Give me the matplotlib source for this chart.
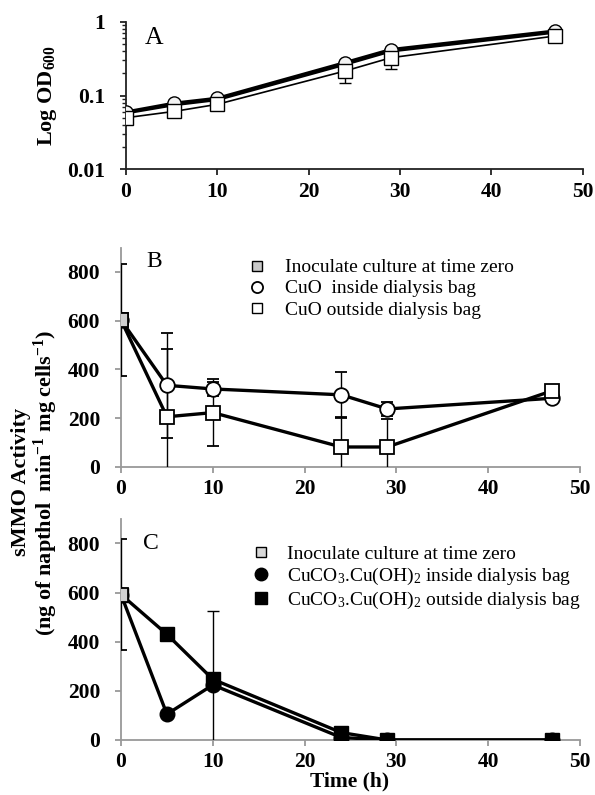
import matplotlib
matplotlib.use("Agg")
import matplotlib.pyplot as plt
from matplotlib.lines import Line2D

plt.rcParams['font.family'] = ['Liberation Serif', 'DejaVu Serif']
plt.rcParams['mathtext.default'] = 'regular'

# time points (h)
t = [0, 5, 10, 24, 29, 47]
t_a = [0, 5.3, 10, 24, 29, 47]

# panel A - growth (OD600)
od_in_cuo = [0.060, 0.079, 0.092, 0.28, 0.42, 0.75]
od_in_cuco3 = [0.058, 0.075, 0.088, 0.265, 0.40, 0.72]
od_out = [0.050, 0.061, 0.076, 0.215, 0.325, 0.64]
od_out_err_low = [0, 0, 0, 0.065, 0.095, 0]

# panel B - CuO
b_inoc = [603]
b_inoc_err = [228]
b_in = [603, 335, 320, 296, 238, 282]
b_in_err = [0, 215, 30, 92, 30, 0]
b_out = [603, 206, 223, 82, 82, 313]
b_out_err = [0, 278, 138, 120, 116, 0]

# panel C - CuCO3.Cu(OH)2
c_inoc = [592]
c_inoc_err = [225]
c_in = [592, 105, 224, 10, 0, 0]
c_in_err = [0, 0, 0, 0, 0, 0]
c_out = [592, 430, 247, 30, 0, 0]
c_out_err = [0, 0, 277, 0, 0, 0]

xticks = [0, 10, 20, 30, 40, 50]

fig = plt.figure(figsize=(5.95, 7.95), dpi=100)
axA = fig.add_axes([0.2118, 0.7870, 0.7672, 0.1857])
axB = fig.add_axes([0.2034, 0.4126, 0.7714, 0.2760])
axC = fig.add_axes([0.2034, 0.0692, 0.7714, 0.2782])

tick_font = dict(fontsize=15.5, fontweight='bold')


def style(ax, spine_color):
    for s in ['top', 'right']:
        ax.spines[s].set_visible(False)
    for s in ['left', 'bottom']:
        ax.spines[s].set_color(spine_color)
        ax.spines[s].set_linewidth(1.3)
    ax.set_xlim(0, 50)
    ax.set_xticks(xticks)
    ax.set_xticklabels([str(v) for v in xticks], **tick_font)
    ax.tick_params(axis='both', direction='out', length=4, width=1.3,
                   color=spine_color)
    ax.tick_params(axis='x', pad=5)
    ax.tick_params(axis='y', pad=11)


# ---- A ----
axA.set_yscale('log')
axA.set_ylim(0.01, 1)
axA.plot(t_a, od_in_cuco3, color='black', lw=2.2, marker='o', ms=9.5,
         mfc='#f4f4f4', mec='black', zorder=3)
axA.plot(t_a, od_in_cuo, color='black', lw=2.2, marker='o', ms=9.5,
         mfc='#f4f4f4', mec='black', zorder=3)
axA.errorbar(t_a, od_out, yerr=[od_out_err_low, [0] * len(t_a)],
             color='black', lw=1.2, marker='s', ms=9.5, mfc='white',
             mec='black', capsize=4, elinewidth=1, zorder=4)
axA.set_yticks([0.01, 0.1, 1])
axA.set_yticklabels(['0.01', '0.1', '1'], **tick_font)
style(axA, '#222222')
axA.tick_params(axis='y', which='minor', length=3, width=1, color='#222222')
axA.text(3.1, 0.61, 'A', fontsize=18.5, ha='center', va='center')
axA.set_ylabel('Log OD$_{600}$', fontsize=16, fontweight='bold', labelpad=6)

# ---- B ----
axB.set_ylim(0, 900)
axB.errorbar(t, b_in, yerr=b_in_err, color='black', lw=2.4, marker='o',
             ms=10.5, mfc='white', mec='black', mew=1.3, capsize=4,
             elinewidth=1, ecolor='black', zorder=3)
axB.errorbar(t, b_out, yerr=b_out_err, color='black', lw=2.4, marker='s',
             ms=10.5, mfc='white', mec='black', mew=1.3, capsize=4,
             elinewidth=1, ecolor='black', zorder=3)
axB.errorbar(t[:1], b_inoc, yerr=b_inoc_err, color='black', lw=0,
             marker='s', ms=10.5, mfc='#cfcfcf', mec='black', mew=1.3,
             capsize=4, elinewidth=1, zorder=4)
axB.set_yticks([0, 200, 400, 600, 800])
axB.set_yticklabels(['0', '200', '400', '600', '800'], **tick_font)
style(axB, '#999999')
axB.text(3.6, 841, 'B', fontsize=17, ha='center', va='center')

hB = [Line2D([], [], ls='none', marker='s', ms=7.5, mfc='#c8c8c8', mec='black'),
      Line2D([], [], ls='none', marker='o', ms=8, mfc='white', mec='black',
             mew=1.3),
      Line2D([], [], ls='none', marker='s', ms=7.5, mfc='white', mec='black')]
axB.legend(hB, ['Inoculate culture at time zero', 'CuO  inside dialysis bag',
                'CuO outside dialysis bag'],
           loc='upper left', bbox_to_anchor=(0.415, 0.6745),
           bbox_transform=fig.transFigure, frameon=False,
           fontsize=14, handlelength=1.0, handletextpad=0.96,
           labelspacing=0.18, borderaxespad=0, borderpad=0)

# ---- C ----
axC.set_ylim(0, 900)
axC.errorbar(t, c_in, yerr=c_in_err, color='black', lw=2.4, marker='o',
             ms=10.5, mfc='black', mec='black', capsize=4, elinewidth=1,
             zorder=3)
axC.errorbar(t, c_out, yerr=c_out_err, color='black', lw=2.4, marker='s',
             ms=10.5, mfc='black', mec='black', capsize=4, elinewidth=1,
             zorder=3)
axC.errorbar(t[:1], c_inoc, yerr=c_inoc_err, color='black', lw=0,
             marker='s', ms=10.5, mfc='#d0d0d0', mec='black', mew=1.3,
             capsize=4, elinewidth=1, zorder=4)
axC.set_yticks([0, 200, 400, 600, 800])
axC.set_yticklabels(['0', '200', '400', '600', '800'], **tick_font)
style(axC, '#999999')
axC.text(3.2, 800, 'C', fontsize=17, ha='center', va='center')

hC = [Line2D([], [], ls='none', marker='s', ms=7.5, mfc='#d8d8d8', mec='black'),
      Line2D([], [], ls='none', marker='o', ms=9, mfc='black', mec='black'),
      Line2D([], [], ls='none', marker='s', ms=8.5, mfc='black', mec='black')]
axC.legend(hC, ['Inoculate culture at time zero',
                'CuCO$_3$.Cu(OH)$_2$ inside dialysis bag',
                'CuCO$_3$.Cu(OH)$_2$ outside dialysis bag'],
           loc='upper left', bbox_to_anchor=(0.4224, 0.314),
           bbox_transform=fig.transFigure, frameon=False,
           fontsize=14, handlelength=1.0, handletextpad=0.85,
           labelspacing=0.15, borderaxespad=0, borderpad=0)

fig.text(0.588, 0.004, 'Time (h)', fontsize=15.5, fontweight='bold',
         ha='center', va='bottom')

fig.text(0.035, 0.394, 'sMMO Activity', rotation=90, fontsize=16,
         fontweight='bold', ha='center', va='center')
fig.text(0.077, 0.393, '(ng of napthol  min$^{-1}$ mg cells$^{-1}$)',
         rotation=90, fontsize=16, fontweight='bold', ha='center',
         va='center')

fig.savefig('out.png', dpi=100)
